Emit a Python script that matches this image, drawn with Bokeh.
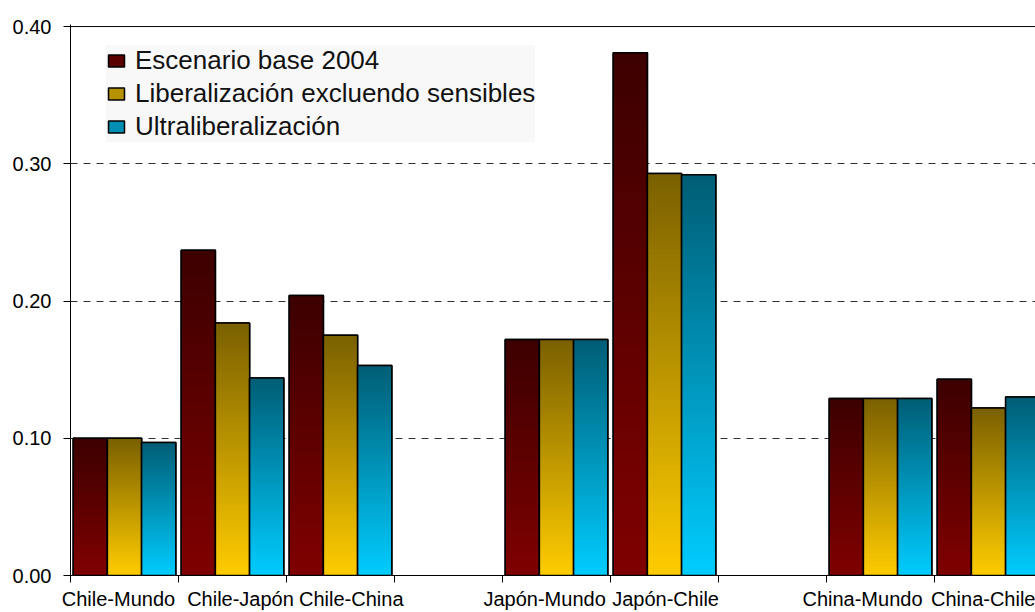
import numpy as np
from bokeh.plotting import figure
from bokeh.models import (ColumnDataSource, FixedTicker, PrintfTickFormatter,
                          Span, Legend, LegendItem, Range1d)
from bokeh.embed import file_html
from bokeh.resources import INLINE

# Trade pairs (blank slots separate the Chile / Japón / China groups)
categories = ["Chile-Mundo", "Chile-Japón", "Chile-China", "",
              "Japón-Mundo", "Japón-Chile", "",
              "China-Mundo", "China-Chile"]

series_names = ["Escenario base 2004",
                "Liberalización excluendo sensibles",
                "Ultraliberalización"]

base_2004 = [0.100, 0.237, 0.204, None, 0.172, 0.381, None, 0.129, 0.143]
liberalizacion = [0.100, 0.184, 0.175, None, 0.172, 0.293, None, 0.129, 0.122]
ultraliberalizacion = [0.097, 0.144, 0.153, None, 0.172, 0.292, None, 0.129, 0.130]

y_ticks = [0.0, 0.1, 0.2, 0.3, 0.4]

# gradient end colours per series: dark at the top, bright at the base
top_colors = ["#3c0000", "#7a6000", "#005d75"]
bottom_colors = ["#800000", "#ffcc00", "#00ccff"]

FONT = "Liberation Sans"
N_SLICES = 64
GROUP_FRACTION = 0.95
# small sideways nudges (in slot widths) that keep neighbouring labels apart
LABEL_NUDGE = [-0.056, 0.074, 0.10, 0.0, -0.11, 0.01, 0.0, -0.167, -0.037]


def hex_to_rgb(h):
    h = h.lstrip("#")
    return np.array([int(h[i:i + 2], 16) for i in (0, 2, 4)], dtype=float)


def blend(c_bottom, c_top, t):
    a, b = hex_to_rgb(c_bottom), hex_to_rgb(c_top)
    r, g, bl = (a + (b - a) * t).round().astype(int)
    return "#%02x%02x%02x" % (r, g, bl)


p = figure(width=1035, height=612, output_backend="svg", toolbar_location=None,
           x_range=Range1d(0, 8.935), y_range=Range1d(0, 0.4015),
           min_border_left=70, min_border_right=0, min_border_top=24,
           min_border_bottom=36, background_fill_color="white",
           border_fill_color="white", outline_line_color=None)

p.xgrid.visible = False
p.ygrid.ticker = FixedTicker(ticks=[0.1, 0.2, 0.3])
p.ygrid.grid_line_color = "#303030"
p.ygrid.grid_line_dash = "7 6"
p.ygrid.grid_line_width = 1

all_series = [base_2004, liberalizacion, ultraliberalizacion]
bar_w = GROUP_FRACTION / len(all_series)
legend_items = []

for j, (name, vals) in enumerate(zip(series_names, all_series)):
    lefts, rights, bottoms, tops, colors = [], [], [], [], []
    o_left, o_right, o_top = [], [], []
    for k, v in enumerate(vals):
        if v is None:
            continue
        x0 = k + (1 - GROUP_FRACTION) / 2 + j * bar_w
        x1 = x0 + bar_w
        o_left.append(x0)
        o_right.append(x1)
        o_top.append(v)
    bar_src = ColumnDataSource(dict(left=o_left, right=o_right,
                                    bottom=[0] * len(o_top), top=o_top))
    # solid base bar in the series' middle tone (also serves as legend swatch)
    base = p.quad(left="left", right="right", bottom="bottom", top="top",
                  fill_color=blend(bottom_colors[j], top_colors[j], 0.55),
                  line_color="black", line_width=1.5, source=bar_src)
    # gradient: each band runs from its own start up to the bar top and the
    # higher (darker) bands are painted over the lower ones, so no seams show
    for i in range(N_SLICES):
        for x0, x1, v in zip(o_left, o_right, o_top):
            lefts.append(x0)
            rights.append(x1)
            bottoms.append(v * i / N_SLICES)
            tops.append(v)
            colors.append(blend(bottom_colors[j], top_colors[j],
                                (i + 0.5) / N_SLICES))
    grad_src = ColumnDataSource(dict(left=lefts, right=rights, bottom=bottoms,
                                     top=tops, color=colors))
    p.quad(left="left", right="right", bottom="bottom", top="top",
           fill_color="color", line_color=None, source=grad_src)
    # bar outline on top of the gradient
    p.quad(left="left", right="right", bottom="bottom", top="top",
           fill_color=None, line_color="black", line_width=1.5, source=bar_src)
    legend_items.append(LegendItem(label=name, renderers=[base]))

p.add_layout(Span(location=0.4, dimension="width", line_color="black",
                  line_width=1))

# value axis
p.yaxis.ticker = FixedTicker(ticks=y_ticks)
p.yaxis.formatter = PrintfTickFormatter(format="%.2f")
p.yaxis.axis_line_color = "black"
p.yaxis.major_tick_out = 7
p.yaxis.major_tick_in = 0
p.yaxis.minor_tick_line_color = None
p.yaxis.major_label_standoff = 12
p.yaxis.major_label_text_font = FONT
p.yaxis.major_label_text_font_size = "20px"
p.yaxis.major_label_text_color = "black"

# category axis: labels near slot centres, tick marks at slot boundaries
label_pos = {k + 0.5 + LABEL_NUDGE[k]: c for k, c in enumerate(categories) if c}
p.xaxis.ticker = FixedTicker(ticks=list(label_pos.keys()),
                             minor_ticks=list(range(len(categories) + 1)))
p.xaxis.major_label_overrides = label_pos
p.xaxis.axis_line_color = "black"
p.xaxis.major_tick_out = 0
p.xaxis.major_tick_in = 0
p.xaxis.minor_tick_out = 7
p.xaxis.minor_tick_in = 0
p.xaxis.minor_tick_line_color = "black"
p.xaxis.major_label_standoff = 5
p.xaxis.major_label_text_font = FONT
p.xaxis.major_label_text_font_size = "20px"
p.xaxis.major_label_text_color = "black"

# legend box: left edge 36 px inside the frame, bottom edge 433 px above it
legend = Legend(items=legend_items, location=(36, 433),
                background_fill_color="#f8f8f8", background_fill_alpha=1,
                border_line_color=None, label_text_font=FONT,
                label_text_font_size="26px", label_text_color="#111111",
                glyph_width=20, glyph_height=15, label_standoff=9,
                spacing=2, padding=4, margin=0)
p.add_layout(legend)

open("out.html", "w").write(file_html(p, INLINE))
